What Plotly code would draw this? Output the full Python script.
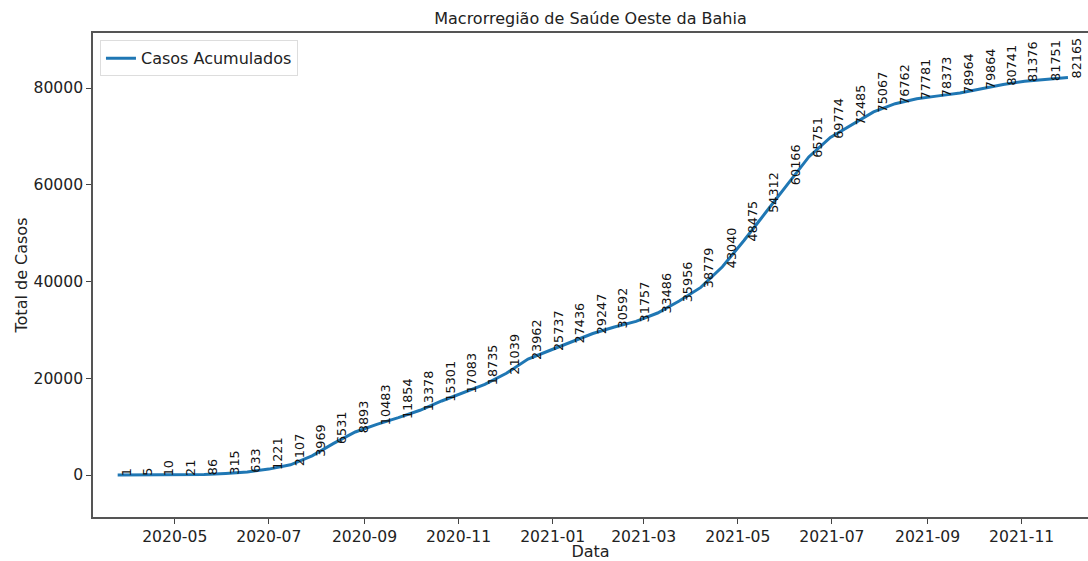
import pandas as pd
import plotly.graph_objects as go

start_date = "2020-03-25"
n_points = 45
dates = pd.date_range(start_date, periods=n_points, freq="14D")
casos = [1, 5, 10, 21, 86, 315, 633, 1221, 2107, 3969, 6531, 8893, 10483, 11854,
         13378, 15301, 17083, 18735, 21039, 23962, 25737, 27436, 29247, 30592,
         31757, 33486, 35956, 38779, 43040, 48475, 54312, 60166, 65751, 69774,
         72485, 75067, 76762, 77781, 78373, 78964, 79864, 80741, 81376, 81751, 82165]
y_ticks = [0, 20000, 40000, 60000, 80000]

FONT = "DejaVu Sans"
fig = go.Figure()
fig.add_trace(go.Scatter(x=dates, y=casos, mode="lines", name="Casos Acumulados",
                         line=dict(color="#1f77b4", width=3)))

for d, v in zip(dates, casos):
    fig.add_annotation(x=d, y=v, text=str(v), showarrow=False, textangle=-90,
                       xanchor="left", yanchor="bottom", yshift=-3, xshift=-1,
                       font=dict(family=FONT, size=12.8, color="#111"))

fig.update_layout(
    width=1088, height=561,
    margin=dict(l=93, r=0, t=33, b=44),
    paper_bgcolor="white", plot_bgcolor="white",
    font=dict(family=FONT, size=15.6, color="#222"),
    title=dict(text="Macrorregião de Saúde Oeste da Bahia", x=0.5, xref="paper",
               xanchor="center", y=1 - 18 / 561, yref="container", yanchor="middle",
               font=dict(family=FONT, size=16, color="#222")),
    showlegend=True,
    legend=dict(x=0.007, y=0.985, xanchor="left", yanchor="top",
                bgcolor="rgba(255,255,255,0.9)", bordercolor="#ddd", borderwidth=1,
                font=dict(family=FONT, size=16, color="#222")),
    xaxis=dict(
        title=dict(text="Data", standoff=4, font=dict(family=FONT, size=16)),
        automargin=False,
        range=["2020-03-09", "2021-12-14"],
        tickmode="linear", tick0="2020-05-01", dtick="M2", tickformat="%Y-%m",
        ticks="outside", ticklen=5, tickcolor="#444",
        showline=True, linecolor="#555", linewidth=1.5, mirror=True,
        showgrid=False, zeroline=False,
    ),
    yaxis=dict(
        title=dict(text="Total de Casos", standoff=2, font=dict(family=FONT, size=16)),
        automargin=False,
        range=[-8680, 91370],
        tickmode="array", tickvals=y_ticks, ticktext=[str(t) for t in y_ticks],
        ticks="outside", ticklen=5, tickcolor="#444",
        showline=True, linecolor="#555", linewidth=1.5, mirror=False,
        showgrid=False, zeroline=False,
    ),
)

fig.write_html("out.html")
